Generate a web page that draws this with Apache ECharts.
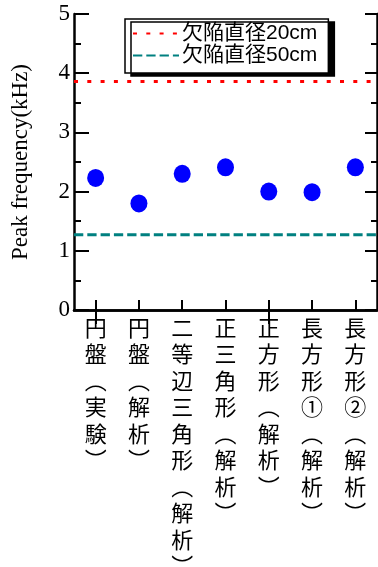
<!DOCTYPE html>
<html><head><meta charset="utf-8">
<script src="https://cdn.jsdelivr.net/npm/echarts@6/dist/echarts.min.js"></script>
<style>html,body{margin:0;padding:0;background:#fff}#c{width:378px;height:567px}</style>
</head><body><div id="c"></div>
<script>
const categories = ['円盤（実験）','円盤（解析）','二等辺三角形（解析）','正三角形（解析）','正方形（解析）','長方形①（解析）','長方形②（解析）'];
const peakValues = [2.23, 1.80, 2.30, 2.41, 2.00, 1.99, 2.41];
const refNames = ['欠陥直径20cm','欠陥直径50cm'];
const ref20 = 3.86;
const ref50 = 1.27;
const yTicks = [0,1,2,3,4,5];

const chart = echarts.init(document.getElementById('c'));
const serif = '"Liberation Serif", "DejaVu Serif", serif';
const sans = '"Liberation Sans", "Noto Sans CJK JP", sans-serif';
const vert = s => s.replace(/（/g,'︵').replace(/）/g,'︶').split('').join('\n');
const axLine = {show:true, lineStyle:{color:'#000', width:2.5}};
chart.setOption({
  animation:false,
  grid:{left:74, right:1, top:14, bottom:257, containLabel:false, outerBoundsMode:'none'},
  legend:{
    data:refNames,
    orient:'vertical', left:125, top:19,
    padding:[4,11,7,7], itemGap:1,
    itemWidth:46, itemHeight:20,
    itemStyle:{opacity:0},
    backgroundColor:'#fff', borderColor:'#000', borderWidth:1.5,
    shadowColor:'#000', shadowBlur:0, shadowOffsetX:6, shadowOffsetY:3,
    textStyle:{fontFamily:sans, fontSize:21, color:'#000', padding:[0,0,0,-2]}
  },
  xAxis:[
    {type:'category', data:categories, position:'bottom', boundaryGap:true,
     axisLine:axLine,
     axisTick:{show:true, inside:true, length:10, alignWithLabel:true, lineStyle:{color:'#000', width:2}},
     axisLabel:{formatter:vert, fontFamily:'"Noto Sans CJK JP", sans-serif', fontSize:22, lineHeight:26.5, color:'#000', interval:0, margin:4, verticalAlign:'top'},
     splitLine:{show:false}},
    {type:'category', data:categories, position:'top', boundaryGap:true,
     axisLine:axLine,
     axisTick:{show:true, inside:true, length:14, alignWithLabel:true, lineStyle:{color:'#000', width:2}},
     axisLabel:{show:false}, splitLine:{show:false}},
    {type:'value', min:0, max:1, show:false, gridIndex:0}
  ],
  yAxis:[
    {type:'value', min:0, max:5, interval:1, position:'left',
     name:'Peak frequency(kHz)', nameLocation:'middle', nameGap:42,
     nameTextStyle:{fontFamily:serif, fontSize:23, color:'#000'},
     axisLine:axLine,
     axisTick:{show:true, inside:true, length:15, lineStyle:{color:'#000', width:2}},
     minorTick:{show:true, splitNumber:2, length:7, lineStyle:{color:'#000', width:2}},
     axisLabel:{fontFamily:serif, fontSize:23, color:'#000', margin:4, formatter:v => yTicks.includes(v) ? String(v) : ''},
     splitLine:{show:false}},
    {type:'value', min:0, max:5, interval:1, position:'right',
     axisLine:axLine,
     axisTick:{show:true, inside:true, length:12, lineStyle:{color:'#000', width:2}},
     minorTick:{show:true, splitNumber:2, length:6, lineStyle:{color:'#000', width:2}},
     axisLabel:{show:false}, splitLine:{show:false}}
  ],
  series:[
    {name:refNames[0], type:'line', xAxisIndex:2, yAxisIndex:0, symbol:'none',
     data:[[0,ref20],[1,ref20]],
     lineStyle:{color:'#ff0000', width:3, type:[4,9.3]}, itemStyle:{color:'#ff0000'}, z:3},
    {name:refNames[1], type:'line', xAxisIndex:2, yAxisIndex:0, symbol:'none',
     data:[[0,ref50],[1,ref50]],
     lineStyle:{color:'#008080', width:3, type:[9.3,4]}, itemStyle:{color:'#008080'}, z:3},
    {name:'peak', type:'scatter', xAxisIndex:0, yAxisIndex:0,
     data:peakValues, symbol:'circle', symbolSize:[17,18],
     itemStyle:{color:'#0000ff', opacity:1}, z:4}
  ]
});
</script>
</body></html>
